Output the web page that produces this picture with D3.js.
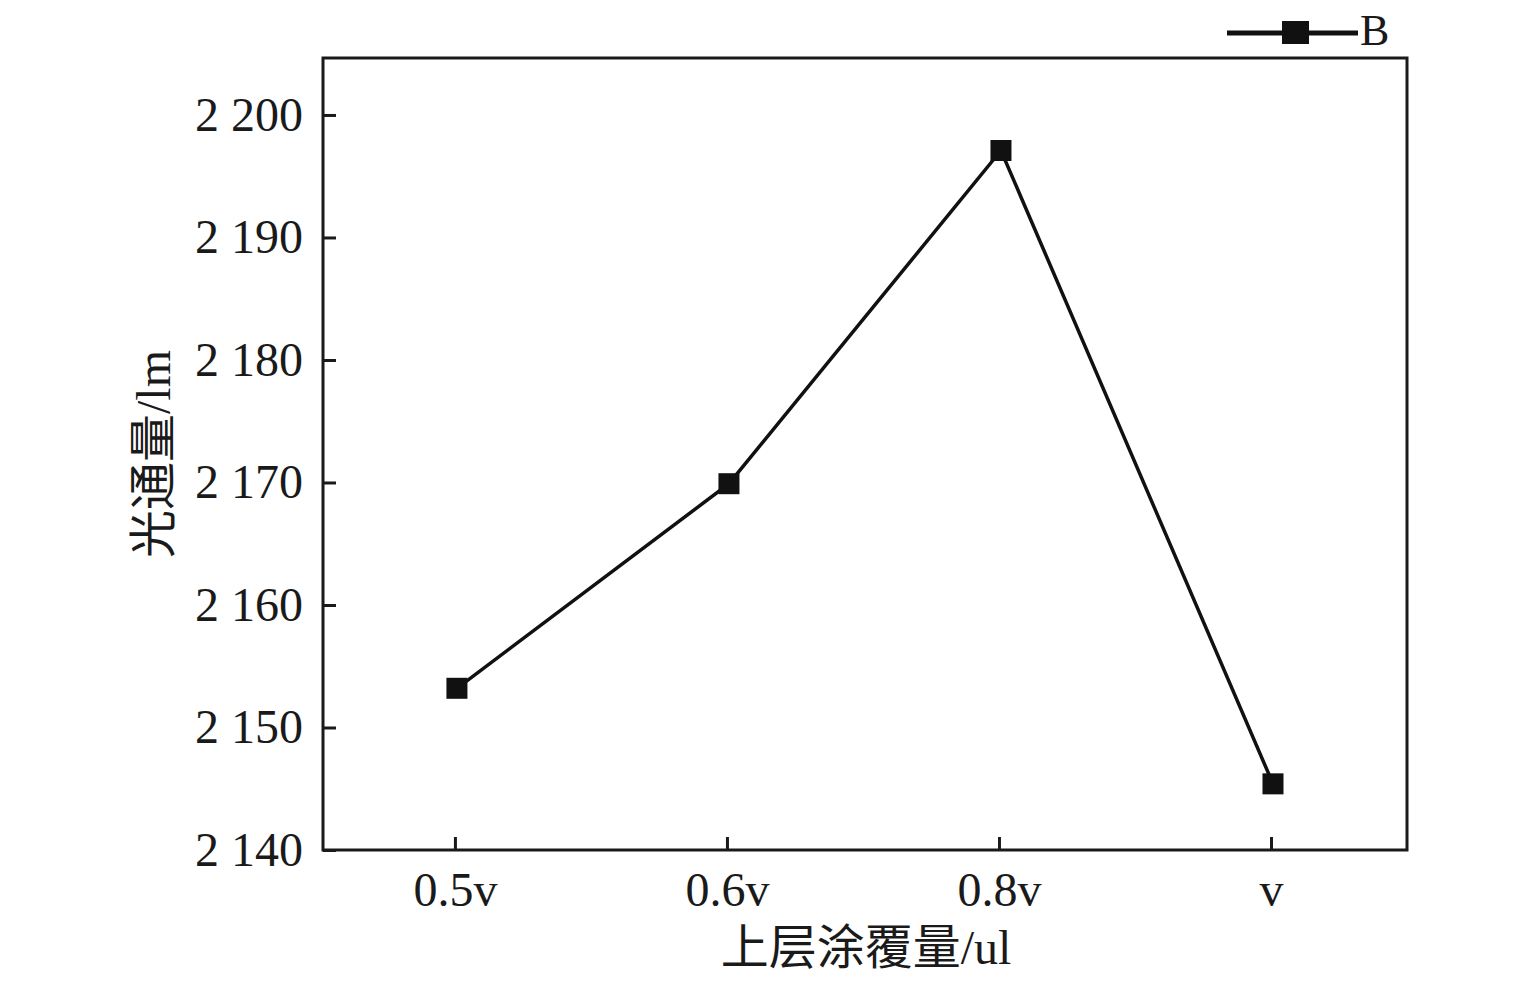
<!DOCTYPE html>
<html><head><meta charset="utf-8">
<script src="https://cdn.jsdelivr.net/npm/d3@7"></script>
<style>body{margin:0;background:#fff}svg{display:block}</style>
</head><body>
<script>
const categories = ["0.5v", "0.6v", "0.8v", "v"];
const seriesB = [2153.2, 2169.9, 2197.1, 2145.4];
const yTicks = [2140, 2150, 2160, 2170, 2180, 2190, 2200];
const seriesName = "B";
const xTitle = "上层涂覆量/ul";
const yTitle = "光通量/lm";

const W = 1535, H = 984;
const m = {left: 323, right: 1407, top: 58, bottom: 850};
const svg = d3.select("body").append("svg").attr("width", W).attr("height", H);
const font = "'Liberation Serif','Times New Roman','Noto Sans CJK SC',serif";

const x = d3.scaleLinear().domain([0.515, 4.5]).range([m.left, m.right]);
const y = d3.scaleLinear().domain([2140, 2204.65]).range([m.bottom, m.top]);
const fmt = d => { const s = String(d); return s.slice(0,1) + " " + s.slice(1); };

// frame
svg.append("rect").attr("x", m.left).attr("y", m.top).attr("width", m.right - m.left)
  .attr("height", m.bottom - m.top).attr("fill", "none").attr("stroke", "#1a1a1a").attr("stroke-width", 3);

const yAxis = svg.append("g").attr("transform", `translate(${m.left},0)`)
  .call(d3.axisLeft(y).tickValues(yTicks).tickFormat(fmt).tickSizeInner(-13).tickSizeOuter(0).tickPadding(20));
yAxis.select(".domain").remove();
yAxis.selectAll("line").attr("stroke", "#1a1a1a").attr("stroke-width", 3);
yAxis.selectAll("text").attr("font-family", font).attr("font-size", 48).attr("fill", "#1a1a1a");

const xAxis = svg.append("g").attr("transform", `translate(0,${m.bottom})`)
  .call(d3.axisBottom(x).tickValues([1,2,3,4]).tickFormat((d,i) => categories[i]).tickSizeInner(-13).tickSizeOuter(0).tickPadding(22));
xAxis.select(".domain").remove();
xAxis.selectAll("line").attr("stroke", "#1a1a1a").attr("stroke-width", 3);
xAxis.selectAll("text").attr("font-family", font).attr("font-size", 48).attr("fill", "#1a1a1a");

const pts = seriesB.map((v, i) => [x(i + 1) + 2, y(v)]);
svg.append("path").attr("d", d3.line()(pts)).attr("fill", "none").attr("stroke", "#111").attr("stroke-width", 3.5);
svg.selectAll("rect.mk").data(pts).enter().append("rect").attr("class", "mk")
  .attr("x", d => d[0] - 10.5).attr("y", d => d[1] - 10.5).attr("width", 21).attr("height", 21).attr("fill", "#111");

// legend
const lg = svg.append("g");
lg.append("line").attr("x1", 1227).attr("x2", 1358).attr("y1", 33).attr("y2", 33).attr("stroke", "#111").attr("stroke-width", 5);
lg.append("rect").attr("x", 1282).attr("y", 21).attr("width", 27).attr("height", 23).attr("fill", "#111");
lg.append("text").attr("x", 1360).attr("y", 45).text(seriesName).attr("font-family", font).attr("font-size", 44).attr("fill", "#1a1a1a");

svg.append("text").attr("x", 866).attr("y", 964).attr("text-anchor", "middle").text(xTitle)
  .attr("font-family", font).attr("font-size", 48).attr("fill", "#1a1a1a");
svg.append("text").attr("transform", "translate(170,454) rotate(-90)").attr("text-anchor", "middle").text(yTitle)
  .attr("font-family", font).attr("font-size", 48).attr("fill", "#1a1a1a");
</script>
</body></html>
